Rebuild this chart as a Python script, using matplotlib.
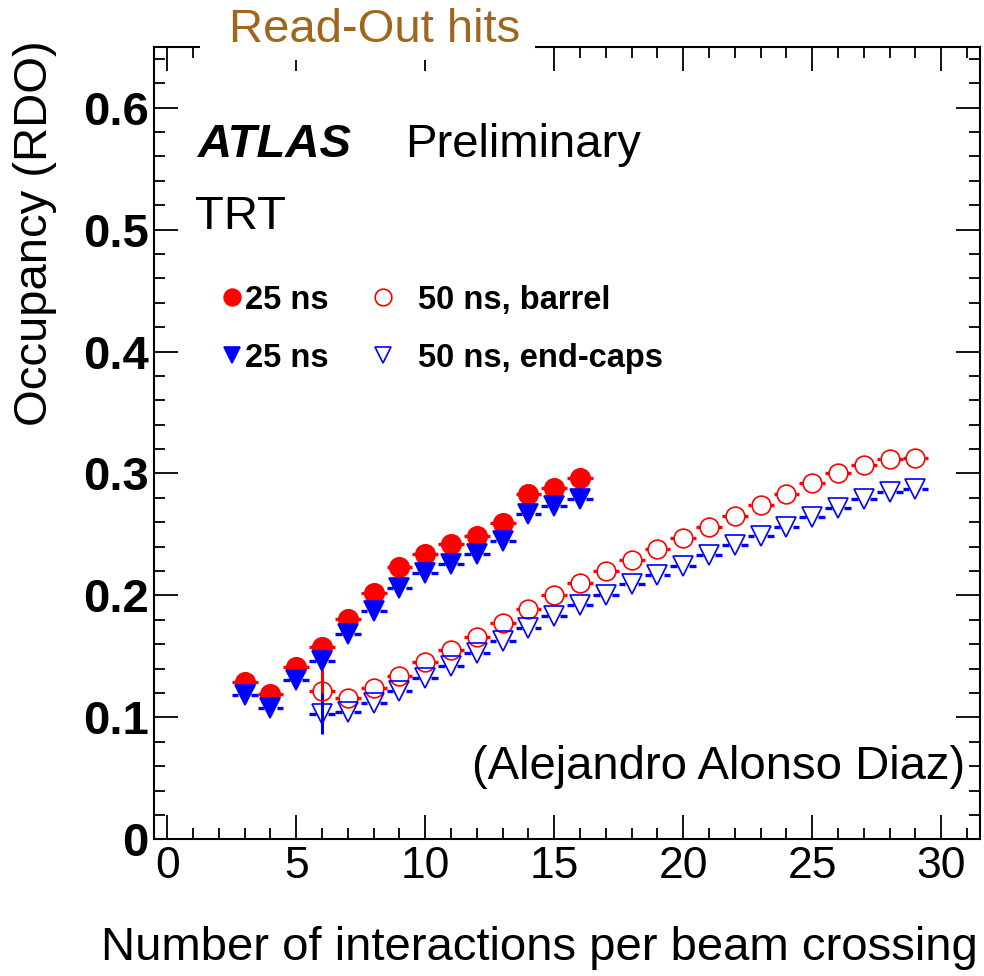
import numpy as np
import matplotlib
matplotlib.use('Agg')
import matplotlib.pyplot as plt
from matplotlib.patches import Rectangle
from matplotlib.ticker import MultipleLocator

plt.rcParams['font.family'] = ['Liberation Sans', 'DejaVu Sans']

# data
mu_25 = [3, 4, 5, 6, 7, 8, 9, 10, 11, 12, 13, 14, 15, 16]
occ_25_barrel = [0.129, 0.119, 0.141, 0.158, 0.181, 0.202, 0.223, 0.234,
                 0.242, 0.249, 0.259, 0.283, 0.288, 0.296]
occ_25_endcap = [0.118, 0.108, 0.131, 0.146, 0.168, 0.187, 0.206, 0.218,
                 0.226, 0.234, 0.245, 0.267, 0.273, 0.279]

mu_50 = [6, 7, 8, 9, 10, 11, 12, 13, 14, 15, 16, 17, 18, 19, 20, 21, 22,
         23, 24, 25, 26, 27, 28, 29]
occ_50_barrel = [0.122, 0.116, 0.124, 0.134, 0.145, 0.155, 0.166, 0.177,
                 0.189, 0.200, 0.210, 0.220, 0.229, 0.238, 0.247, 0.256,
                 0.265, 0.274, 0.283, 0.292, 0.300, 0.307, 0.312, 0.313]
occ_50_endcap = [0.103, 0.104, 0.112, 0.122, 0.132, 0.142, 0.153, 0.163,
                 0.173, 0.183, 0.192, 0.200, 0.209, 0.217, 0.224, 0.233,
                 0.241, 0.249, 0.256, 0.264, 0.272, 0.279, 0.285, 0.287]
err_50_barrel = [0.017] + [0.0] * 23
err_50_endcap = [0.017] + [0.0] * 23

ytick_vals = [0, 0.1, 0.2, 0.3, 0.4, 0.5, 0.6]
ytick_labels = ['0', '0.1', '0.2', '0.3', '0.4', '0.5', '0.6']
xtick_vals = [0, 5, 10, 15, 20, 25, 30]

W, H = 984, 976
fig = plt.figure(figsize=(W / 100, H / 100), dpi=100)


def fx(px):
    return px / W


def fy(py):
    return 1 - py / H


ax = fig.add_axes([fx(154.3), fy(839.3), (980 - 154.3) / W, (839.3 - 46.7) / H])
ax.set_xlim(-0.5, 31.5)
ax.set_ylim(0, 0.65)


def draw_series(x, y, color, marker, ms, filled, gap, yerr=None):
    # ROOT leaves the error bar out inside the marker
    x = np.array(x, dtype=float)
    y = np.array(y, dtype=float)
    ax.hlines(y, x - 0.5, x - gap, color=color, lw=2.4, zorder=2)
    ax.hlines(y, x + gap, x + 0.5, color=color, lw=2.4, zorder=2)
    if yerr is not None:
        e = np.array(yerr)
        m = e > 0
        ax.vlines(x[m], y[m] - e[m], y[m] + e[m], color=color, lw=2.2, zorder=2)
    ax.plot(x, y, ls='none', marker=marker, ms=ms,
            mfc=color if filled else 'none', mec=color,
            mew=1.2, zorder=3)


draw_series(mu_25, occ_25_barrel, 'red', 'o', 14, True, 0.36)
draw_series(mu_25, occ_25_endcap, 'blue', 'v', 14, True, 0.24)
draw_series(mu_50, occ_50_barrel, 'red', 'o', 13.5, False, 0.36, err_50_barrel)
draw_series(mu_50, occ_50_endcap, 'blue', 'v', 14, False, 0.24, err_50_endcap)

# ROOT-style frame
for s in ax.spines.values():
    s.set_linewidth(1.5)
ax.set_xticks(xtick_vals)
ax.set_yticks(ytick_vals)
ax.set_yticklabels(ytick_labels)
ax.xaxis.set_minor_locator(MultipleLocator(1))
ax.yaxis.set_minor_locator(MultipleLocator(0.02))
ax.tick_params(which='both', direction='in', top=True, right=True, width=1.3)
ax.tick_params(which='major', length=17)
ax.tick_params(which='minor', length=8)
ax.tick_params(axis='x', labelsize=32, pad=5)
ax.tick_params(axis='y', labelsize=34, pad=4)
for lab in ax.get_yticklabels():
    lab.set_fontweight('bold')

# axis titles
fig.text(fx(35), fy(40), 'Occupancy (RDO)', rotation=90, ha='center',
         va='top', fontsize=34)
fig.text(fx(978), fy(948), 'Number of interactions per beam crossing',
         ha='right', va='center', fontsize=34)

# title over the frame
fig.add_artist(Rectangle((fx(200), fy(60)), 335 / W, 60 / H,
                         transform=fig.transFigure, facecolor='white',
                         edgecolor='none', zorder=10))
fig.text(fx(375), fy(30), 'Read-Out hits', ha='center', va='center',
         fontsize=34, color='#a0661c', zorder=11)

# labels inside the frame
fig.text(fx(198), fy(157), 'ATLAS', fontsize=34, fontweight='bold',
         fontstyle='italic', va='baseline')
fig.text(fx(405), fy(157), 'Preliminary', fontsize=34, va='baseline')
fig.text(fx(195), fy(229), 'TRT', fontsize=34, va='baseline')
fig.text(fx(965), fy(779), '(Alejandro Alonso Diaz)', fontsize=34,
         ha='right', va='baseline')

# legend
leg = [
    (232, 297, 'red', 'o', True, 245, '25 ns'),
    (232, 355, 'blue', 'v', True, 245, '25 ns'),
    (383, 297, 'red', 'o', False, 418, '50 ns, barrel'),
    (383, 355, 'blue', 'v', False, 418, '50 ns, end-caps'),
]
for mx, my, col, mk, filled, tx, txt in leg:
    ax.plot([fx(mx)], [fy(my)], ls='none', marker=mk, ms=12,
            mfc=col if filled else 'none', mec=col, mew=1.2,
            transform=fig.transFigure, clip_on=False)
    fig.text(fx(tx), fy(my + 12), txt, fontsize=23.5, fontweight='bold',
             va='baseline')

fig.savefig('out.png', dpi=100)
